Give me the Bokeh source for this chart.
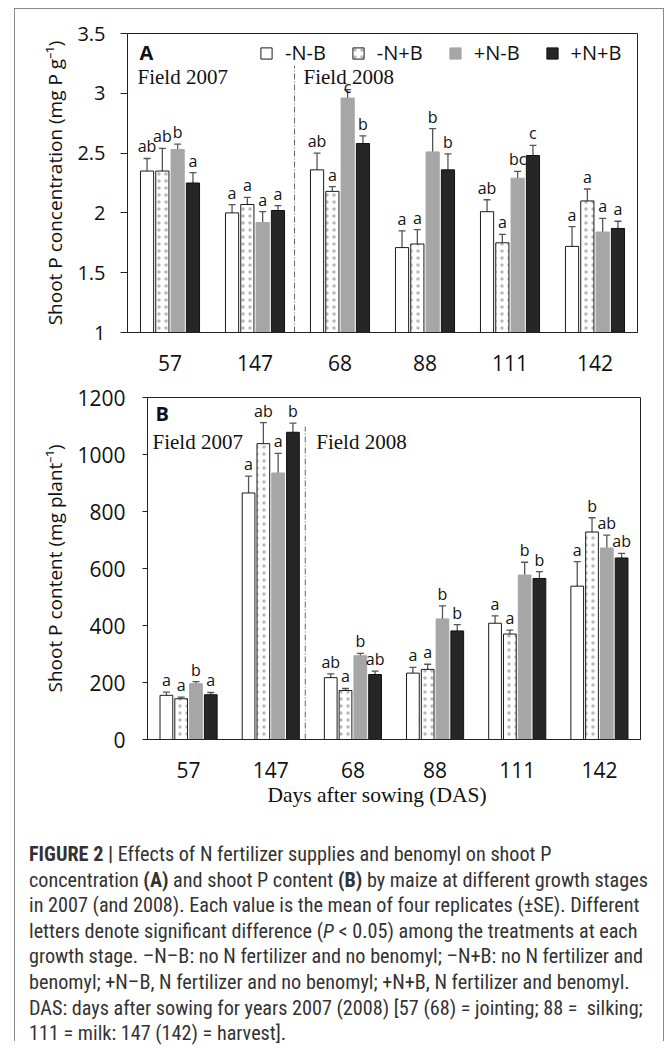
from bokeh.plotting import figure
from bokeh.models import (ColumnDataSource, Whisker, Legend, LegendItem, Title,
                          FixedTicker, NumeralTickFormatter, Div, FactorRange,
                          Range1d, TeeHead)
from bokeh.transform import dodge
from bokeh.core.properties import value
from bokeh.embed import file_html
from bokeh.resources import INLINE

# ---------------- data ----------------
days = ["57", "147", "68", "88", "111", "142"]
treatments = ["-N-B", "-N+B", "+N-B", "+N+B"]

# Panel A: shoot P concentration (mg P g-1)
conc_nmb = [2.35, 2.00, 2.36, 1.71, 2.01, 1.72]
conc_npb = [2.35, 2.07, 2.18, 1.74, 1.75, 2.10]
conc_pmb = [2.53, 1.92, 2.96, 2.51, 2.29, 1.84]
conc_ppb = [2.25, 2.02, 2.58, 2.36, 2.48, 1.87]
conc_se_nmb = [0.105, 0.07, 0.14, 0.14, 0.10, 0.165]
conc_se_npb = [0.19, 0.06, 0.04, 0.12, 0.07, 0.10]
conc_se_pmb = [0.045, 0.09, 0.07, 0.195, 0.058, 0.114]
conc_se_ppb = [0.087, 0.04, 0.064, 0.134, 0.084, 0.06]
conc_let_nmb = ["ab", "a", "ab", "a", "ab", "a"]
conc_let_npb = ["ab", "a", "a", "a", "a", "a"]
conc_let_pmb = ["b", "a", "c", "b", "bc", "a"]
conc_let_ppb = ["a", "a", "b", "b", "c", "a"]

# Panel B: shoot P content (mg plant-1)
cont_nmb = [155, 865, 217, 233, 408, 538]
cont_npb = [143, 1038, 172, 246, 370, 728]
cont_pmb = [196, 935, 294, 423, 577, 672]
cont_ppb = [157, 1078, 228, 381, 565, 637]
cont_se_nmb = [11, 59, 13, 20, 26, 86]
cont_se_npb = [6, 74, 7, 18, 14, 50]
cont_se_pmb = [7, 69, 8, 46, 45, 45]
cont_se_ppb = [8, 32, 12, 22, 24, 16]
cont_let_nmb = ["a", "a", "ab", "a", "a", "a"]
cont_let_npb = ["a", "ab", "a", "a", "a", "b"]
cont_let_pmb = ["b", "a", "b", "b", "b", "ab"]
cont_let_ppb = ["a", "b", "ab", "b", "b", "ab"]

conc_ticks = [1, 1.5, 2, 2.5, 3, 3.5]
cont_ticks = [0, 200, 400, 600, 800, 1000, 1200]

# ---------------- style ----------------
SANS = "Open Sans"
SERIF = "Liberation Serif"
OFFSETS = [-0.27, -0.09, 0.09, 0.27]
BAR_W = 0.155
BORDER = "1px solid #8a8a8a"
STYLES = [
    dict(fill_color="white", line_color="#1a1a1a"),
    dict(fill_color="white", line_color="#1a1a1a", hatch_pattern="dot",
         hatch_color="#b8b8b8", hatch_scale=7, hatch_weight=0.5),
    dict(fill_color="#a6a6a6", line_color="#a6a6a6"),
    dict(fill_color="#262626", line_color="#111111"),
]
LETTER_DY = -1
# letters pushed down (screen px) so they do not collide with the "Field" text
LETTER_NUDGE = {("A", 2, "68"): 9}


def make_panel(means, ses, letters, y0, y1, ticks, ylabel, tag, ytick_size,
               borders, height, divider_x, divider_top, field_dx, field_dy,
               tag_dx, tag_dy, field2_dx, styles, legend_loc=None):
    p = figure(width=650, height=height, x_range=FactorRange(*days),
               y_range=Range1d(y0, y1), output_backend="svg",
               toolbar_location=None,
               min_border_left=borders[0], min_border_right=borders[1],
               min_border_top=borders[2], min_border_bottom=borders[3],
               styles=styles)
    p.xgrid.visible = False
    p.ygrid.visible = False
    p.outline_line_color = "#222222"
    p.outline_line_width = 1
    p.background_fill_color = "white"
    p.border_fill_color = "white"

    items = []
    for i, t in enumerate(treatments):
        src = ColumnDataSource(dict(
            day=days, top=means[i],
            upper=[m + s for m, s in zip(means[i], ses[i])],
            lower=[m - s for m, s in zip(means[i], ses[i])],
            letter=letters[i],
            dy=[LETTER_DY + LETTER_NUDGE.get((tag, i, d), 0) for d in days]))
        xs = dodge("day", OFFSETS[i], range=p.x_range)
        r = p.vbar(x=xs, top="top", bottom=y0, width=BAR_W, source=src,
                   line_width=1, **STYLES[i])
        items.append(LegendItem(label=t, renderers=[r]))
        w = Whisker(source=src, base=xs, upper="upper", lower="lower",
                    line_color="#555555", line_width=1.3,
                    upper_head=TeeHead(size=7, line_color="#555555", line_width=1.3),
                    lower_head=TeeHead(size=7, line_color="#555555", line_width=1.3))
        p.add_layout(w)
        p.text(x=xs, y="upper", text="letter", source=src, text_align="center",
               text_baseline="bottom", y_offset="dy", text_font=value(SANS),
               text_font_size="16px", text_color="#111111")

    # divider between the two field seasons
    p.segment(x0=[divider_x], y0=[y0], x1=[divider_x], y1=[divider_top],
              line_color="#666666", line_width=1, line_dash="6 2 1 2")
    p.text(x=[0], y=[y1], text=["Field 2007"], x_offset=[field_dx],
           y_offset=[field_dy], text_baseline="middle", text_align="left",
           text_font=value(SERIF), text_font_size="21px", text_color="#111111")
    p.text(x=[divider_x], y=[y1], text=["Field 2008"], x_offset=[field2_dx],
           y_offset=[field_dy], text_baseline="middle", text_align="left",
           text_font=value(SERIF), text_font_size="21px", text_color="#111111")
    p.text(x=[0], y=[y1], text=[tag], x_offset=[tag_dx],
           y_offset=[tag_dy], text_baseline="middle", text_align="left",
           text_font=value(SANS), text_font_style="bold",
           text_font_size="20px", text_color="#111111")

    # axes
    p.yaxis.ticker = FixedTicker(ticks=ticks)
    p.yaxis.formatter = NumeralTickFormatter(format="0.[0]")
    p.yaxis.axis_label = ylabel
    p.yaxis.axis_label_text_font = SANS
    p.yaxis.axis_label_text_font_size = "19px"
    p.yaxis.axis_label_text_font_style = "normal"
    p.yaxis.axis_label_text_color = "#111111"
    p.yaxis.axis_label_standoff = 6
    p.yaxis.major_label_text_font = SANS
    p.yaxis.major_label_text_font_size = ytick_size
    p.yaxis.major_label_text_color = "#111111"
    p.yaxis.major_label_standoff = 15
    p.yaxis.major_tick_out = 7
    p.yaxis.major_tick_in = 0
    p.yaxis.minor_tick_line_color = None
    p.yaxis.axis_line_color = "#222222"
    p.yaxis.major_tick_line_color = "#222222"

    p.xaxis.major_tick_line_color = None
    p.xaxis.minor_tick_line_color = None
    p.xaxis.axis_line_color = "#222222"
    p.xaxis.major_label_text_font = SANS
    p.xaxis.major_label_text_font_size = "21px"
    p.xaxis.major_label_text_color = "#111111"
    p.xaxis.major_label_standoff = 16

    if legend_loc is not None:
        lg = Legend(items=items, orientation="horizontal", location=legend_loc,
                    glyph_width=14, glyph_height=14, label_standoff=12,
                    spacing=25, padding=0, margin=0,
                    label_text_font=SANS, label_text_font_size="20px",
                    label_text_color="#111111", label_height=20,
                    border_line_color=None, background_fill_alpha=0)
        p.add_layout(lg)
    return p


pA = make_panel([conc_nmb, conc_npb, conc_pmb, conc_ppb],
                [conc_se_nmb, conc_se_npb, conc_se_pmb, conc_se_ppb],
                [conc_let_nmb, conc_let_npb, conc_let_pmb, conc_let_ppb],
                1, 3.5, conc_ticks, "Shoot P concentration (mg P g\u207b\u00b9)",
                "A", "20px", (112, 28, 24, 49), 372,
                divider_x=1.965, divider_top=3.23, field_dx=10, field_dy=43,
                tag_dx=12, tag_dy=19, field2_dx=9,
                styles={"margin-left": "14px", "margin-top": "8px",
                        "border-left": BORDER, "border-right": BORDER,
                        "border-top": BORDER},
                legend_loc=(132, 266))

pB = make_panel([cont_nmb, cont_npb, cont_pmb, cont_ppb],
                [cont_se_nmb, cont_se_npb, cont_se_pmb, cont_se_ppb],
                [cont_let_nmb, cont_let_npb, cont_let_pmb, cont_let_ppb],
                0, 1200, cont_ticks, "Shoot P content (mg plant\u207b\u00b9)",
                "B", "21px", (132, 25, 17, 76), 435,
                divider_x=1.92, divider_top=1098, field_dx=5, field_dy=44,
                tag_dx=8, tag_dy=16, field2_dx=11,
                styles={"margin-left": "14px",
                        "border-left": BORDER, "border-right": BORDER})
pB.yaxis.major_tick_out = 5
pB.yaxis.major_label_standoff = 17
pB.add_layout(Title(text="Days after sowing (DAS)", align="left",
                    text_font=SERIF, text_font_size="21.5px",
                    text_font_style="normal", text_color="#111111",
                    offset=120, standoff=0), "below")

cap_lines = [
    "<b>FIGURE 2 |</b> Effects of N fertilizer supplies and benomyl on shoot P",
    "concentration <b>(A)</b> and shoot P content <b>(B)</b> by maize at different growth stages",
    "in 2007 (and 2008). Each value is the mean of four replicates (\u00b1SE). Different",
    "letters denote significant difference (<i>P</i> &lt; 0.05) among the treatments at each",
    "growth stage. \u2013N\u2013B: no N fertilizer and no benomyl; \u2013N+B: no N fertilizer and",
    "benomyl; +N\u2013B, N fertilizer and no benomyl; +N+B, N fertilizer and benomyl.",
    "DAS: days after sowing for years 2007 (2008) [57 (68) = jointing; 88 =&nbsp; silking;",
    "111 = milk: 147 (142) = harvest].",
]
cap_html = ('<div style="font-family:\'Liberation Sans Narrow\',\'Roboto Condensed\',sans-serif;'
            'font-size:20.2px;line-height:25.6px;color:#333333;white-space:nowrap;'
            'padding:27px 0 0 14px;">' + "<br>".join(cap_lines) + "</div>")
cap = Div(text=cap_html, width=650, height=226, margin=(0, 0, 0, 14),
          styles={"border-left": BORDER, "border-right": BORDER})

open("out.html", "w").write(file_html([pA, pB, cap], INLINE))
